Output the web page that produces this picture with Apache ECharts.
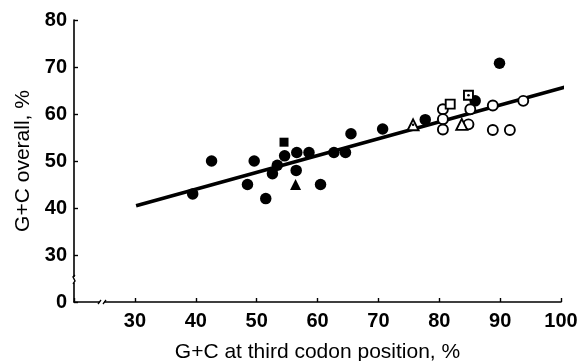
<!DOCTYPE html>
<html>
<head>
<meta charset="utf-8">
<script src="https://cdn.jsdelivr.net/npm/echarts@6/dist/echarts.min.js"></script>
<style>
html,body{margin:0;padding:0;background:#fff;}
#chart{width:578px;height:361px;}
</style>
</head>
<body>
<div id="chart"></div>
<script>
// ---- data ----
var xTicks = [30, 40, 50, 60, 70, 80, 90, 100];
var yTicks = ['0', 30, 40, 50, 60, 70, 80];   // "0" sits at the broken-axis origin (value 20)
var filledCircles = [
  [39.5,43.0],[42.6,50.0],[48.5,45.0],[49.6,50.0],[51.5,42.0],[52.6,47.3],
  [53.4,49.1],[54.6,51.1],[56.6,51.8],[56.5,48.0],[58.6,51.8],[60.5,45.0],
  [62.7,51.8],[64.6,51.8],[65.5,55.8],[70.7,56.8],[77.7,58.8],[85.9,62.8],
  [89.9,70.8]
];
var filledSquares = [[54.5,54.0]];
var filledTriangles = [[56.4,45.0]];
var openCircles = [
  [80.6,61.0],[80.6,58.9],[80.6,56.7],[84.8,57.8],[85.1,61.0],
  [88.8,61.8],[88.8,56.6],[91.6,56.6],[93.8,62.8]
];
var openSquares = [[81.8,62.1]];
var openSquaresDot = [[84.8,64.0]];
var openTriangles = [[83.7,57.8]];
var openTrianglesDot = [[75.7,57.7]];
var fitLine = [[30.2,40.5],[100.8,65.8]];
var axisMin = 20, xBreak = 24.6, yBreak = 24.7;

var chart = echarts.init(document.getElementById('chart'));
var FONT = '"Liberation Sans", Arial, Helvetica, sans-serif';
var openStyle = {color:'#fff', borderColor:'#000', borderWidth:1.9, opacity:1};
var solidStyle = {color:'#000', opacity:1};

var option = {
  animation:false,
  backgroundColor:'#fff',
  grid:{left:74, right:17, top:20, bottom:59, containLabel:false, outerBoundsMode:'none'},
  xAxis:{
    type:'value', min:axisMin, max:100, interval:10,
    name:'G+C at third codon position, %', nameLocation:'middle', nameGap:40,
    nameTextStyle:{fontFamily:FONT, fontSize:21, color:'#000'},
    axisLine:{show:true, lineStyle:{color:'#000', width:1.6}},
    axisTick:{show:true, inside:true, length:4, lineStyle:{color:'#000', width:1.4}},
    axisLabel:{fontFamily:FONT, fontSize:20, fontWeight:'bold', color:'#000', margin:9,
      formatter:function(v){ return xTicks.indexOf(v) >= 0 ? String(v) : ''; }},
    splitLine:{show:false}
  },
  yAxis:{
    type:'value', min:axisMin, max:80, interval:10,
    name:'G+C overall, %', nameLocation:'middle', nameGap:40,
    nameTextStyle:{fontFamily:FONT, fontSize:21, color:'#000'},
    axisLine:{show:true, lineStyle:{color:'#000', width:1.6}},
    axisTick:{show:true, inside:true, length:4, lineStyle:{color:'#000', width:1.4}},
    axisLabel:{fontFamily:FONT, fontSize:20, fontWeight:'bold', color:'#000', margin:7,
      formatter:function(v){ return v === axisMin ? yTicks[0] : String(v); }},
    splitLine:{show:false}
  },
  series:[
    {type:'line', data:fitLine, symbol:'none', clip:false, z:1,
     lineStyle:{color:'#000', width:3.6}},
    {type:'scatter', data:filledCircles, symbol:'circle', symbolSize:11.5, z:3, itemStyle:solidStyle},
    {type:'scatter', data:filledSquares, symbol:'rect', symbolSize:9, z:3, itemStyle:solidStyle},
    {type:'scatter', data:filledTriangles, symbol:'triangle', symbolSize:11, z:3, itemStyle:solidStyle},
    {type:'scatter', data:openCircles, symbol:'circle', symbolSize:10, z:3, itemStyle:openStyle},
    {type:'scatter', data:openSquares.concat(openSquaresDot), symbol:'rect', symbolSize:9, z:3, itemStyle:openStyle},
    {type:'scatter', data:openTriangles.concat(openTrianglesDot), symbol:'triangle', symbolSize:11, z:3, itemStyle:openStyle},
    {type:'scatter', data:openSquaresDot.concat(openTrianglesDot), symbol:'circle', symbolSize:2.6, z:4, itemStyle:solidStyle}
  ]
};
chart.setOption(option);

// axis break marks
var yb = chart.convertToPixel({gridIndex:0}, [axisMin, yBreak]);
var xb = chart.convertToPixel({gridIndex:0}, [xBreak, axisMin]);
chart.setOption({
  graphic:[
    {type:'rect', shape:{x:yb[0]-3, y:yb[1]-3, width:6, height:6}, style:{fill:'#fff'}, z:50},
    {type:'polyline', shape:{points:[[yb[0]+1,yb[1]-5],[yb[0]-1,yb[1]-3],[yb[0]+1,yb[1]+1],[yb[0]-1,yb[1]+4]]},
      style:{stroke:'#000', lineWidth:1.4, fill:null}, z:51},
    {type:'rect', shape:{x:xb[0]-2, y:xb[1]-3, width:4, height:6}, style:{fill:'#fff'}, z:50},
    {type:'line', shape:{x1:xb[0]-4, y1:xb[1]+2, x2:xb[0]-1, y2:xb[1]-2}, style:{stroke:'#000', lineWidth:1.3}, z:51},
    {type:'line', shape:{x1:xb[0]+1, y1:xb[1]+2, x2:xb[0]+4, y2:xb[1]-2}, style:{stroke:'#000', lineWidth:1.3}, z:51}
  ]
});
</script>
</body>
</html>
